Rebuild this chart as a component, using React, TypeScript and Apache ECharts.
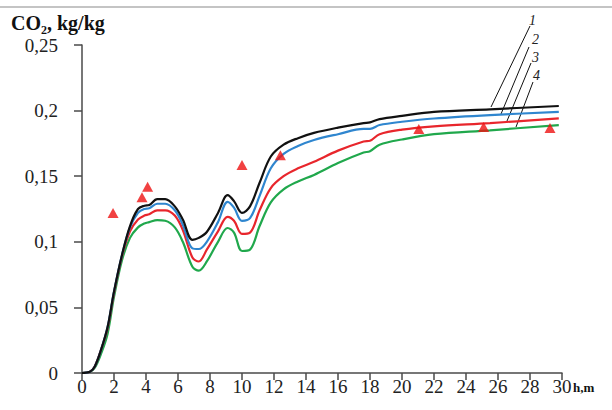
import React, { useEffect, useRef } from "react";
import * as echarts from "echarts";

const hValues = [0, 0.5, 0.8, 1.2, 1.6, 2.0, 2.5, 3.0, 3.5, 3.9, 4.2, 4.7, 5.2, 5.8, 6.3, 6.9, 7.3, 7.8, 8.5, 9.1, 9.5, 10.0, 10.5, 11.1, 11.8, 12.6, 13.5, 14.5, 16, 17.6, 18.0, 18.6, 20, 22, 25.5, 29.8];
const curve1 = [0, 0.001, 0.005, 0.018, 0.035, 0.062, 0.09, 0.112, 0.125, 0.1275, 0.128, 0.1325, 0.1325, 0.127, 0.117, 0.1015, 0.103, 0.1075, 0.122, 0.1355, 0.131, 0.122, 0.127, 0.145, 0.165, 0.174, 0.179, 0.183, 0.187, 0.1905, 0.191, 0.1935, 0.196, 0.199, 0.201, 0.2035];
const curve2 = [0, 0.001, 0.005, 0.018, 0.035, 0.062, 0.09, 0.111, 0.122, 0.125, 0.1255, 0.129, 0.129, 0.124, 0.113, 0.095, 0.0945, 0.1, 0.115, 0.1305, 0.126, 0.116, 0.118, 0.135, 0.156, 0.167, 0.173, 0.1776, 0.182, 0.186, 0.186, 0.189, 0.1915, 0.194, 0.1966, 0.199];
const curve3 = [0, 0.001, 0.005, 0.018, 0.034, 0.061, 0.089, 0.108, 0.117, 0.12, 0.121, 0.124, 0.124, 0.12, 0.109, 0.088, 0.085, 0.094, 0.108, 0.119, 0.116, 0.106, 0.107, 0.124, 0.141, 0.15, 0.156, 0.161, 0.1695, 0.1765, 0.177, 0.182, 0.1855, 0.188, 0.1905, 0.194];
const curve4 = [0, 0.001, 0.004, 0.015, 0.03, 0.058, 0.086, 0.103, 0.111, 0.114, 0.115, 0.1165, 0.116, 0.111, 0.1, 0.081, 0.078, 0.085, 0.1, 0.1105, 0.107, 0.093, 0.094, 0.112, 0.13, 0.14, 0.146, 0.151, 0.16, 0.168, 0.169, 0.174, 0.178, 0.182, 0.185, 0.189];

const expH = [1.94, 3.75, 4.1, 10.0, 12.4, 21.05, 25.1, 29.25];
const expV = [0.122, 0.134, 0.142, 0.1585, 0.166, 0.186, 0.1875, 0.1867];

const curveNames = ["1", "2", "3", "4"];
const curveColors = ["#111111", "#2f86cf", "#e8262c", "#20a84c"];
const curves = [curve1, curve2, curve3, curve4];

const serif = "Liberation Serif";

export default function App() {
  const ref = useRef<HTMLDivElement>(null);
  useEffect(() => {
    if (!ref.current) return;
    const chart = echarts.init(ref.current, null, { renderer: "svg" });
    const lineSeries = curves.map((vals, i) => ({
      name: curveNames[i],
      type: "line",
      data: hValues.map((h, j) => [h, vals[j]]),
      smooth: 0.35,
      showSymbol: false,
      symbol: "none",
      lineStyle: { color: curveColors[i], width: 2.2 },
      z: 3 + (3 - i),
    }));
    const axisColor = "#4a4a4a";
    const option: any = {
      animation: false,
      backgroundColor: "#ffffff",
      textStyle: { fontFamily: serif },
      grid: { left: 82, right: 50, top: 45, bottom: 37 },
      xAxis: {
        type: "value",
        min: 0,
        max: 30,
        interval: 2,
        axisLine: { show: true, lineStyle: { color: axisColor, width: 1.5 } },
        axisTick: { show: true, inside: false, length: 7, lineStyle: { color: axisColor, width: 1.5 } },
        splitLine: { show: false },
        axisLabel: { fontFamily: serif, fontSize: 19, color: "#222", margin: 4 },
      },
      yAxis: {
        type: "value",
        min: 0,
        max: 0.25,
        interval: 0.05,
        axisLine: { show: true, lineStyle: { color: axisColor, width: 1.5 } },
        axisTick: { show: true, inside: false, length: 8, lineStyle: { color: axisColor, width: 1.5 } },
        splitLine: { show: false },
        axisLabel: {
          fontFamily: serif,
          fontSize: 19,
          color: "#222",
          margin: 24,
          formatter: (v: number) => String(Math.round(v * 100) / 100).replace(".", ","),
        },
      },
      series: [
        ...lineSeries,
        {
          name: "experiment",
          type: "scatter",
          data: expH.map((h, j) => [h, expV[j]]),
          symbol: "triangle",
          symbolSize: [11, 10],
          itemStyle: { color: "#ee1111" },
          z: 10,
        },
      ],
      graphic: [
        {
          type: "text",
          left: 0,
          top: -21,
          style: {
            text: "cation between coal and the formed carbon dioxide",
            fontFamily: serif,
            fontSize: 24,
            fontWeight: "bold",
            fill: "#111",
          },
        },
        { type: "line", shape: { x1: 0, y1: 7, x2: 612, y2: 7 }, style: { stroke: "#b0b0b0", lineWidth: 1.5 } },
        {
          type: "text",
          x: 11,
          y: 13,
          style: {
            text: "CO₂, kg/kg",
            fontFamily: serif,
            fontSize: 20,
            fontWeight: "bold",
            fill: "#111",
          },
        },
        {
          type: "text",
          x: 573,
          y: 381,
          style: { text: "h,m", fontFamily: serif, fontSize: 13, fontWeight: "bold", fill: "#111" },
        },
        { type: "line", shape: { x1: 530, y1: 26, x2: 491, y2: 107 }, style: { stroke: "#111", lineWidth: 1 } },
        { type: "line", shape: { x1: 529, y1: 47, x2: 501, y2: 114 }, style: { stroke: "#111", lineWidth: 1 } },
        { type: "line", shape: { x1: 531, y1: 63, x2: 507, y2: 121 }, style: { stroke: "#111", lineWidth: 1 } },
        { type: "line", shape: { x1: 533, y1: 82, x2: 516, y2: 127 }, style: { stroke: "#111", lineWidth: 1 } },
        { type: "text", x: 529, y: 13, style: { text: "1", fontFamily: serif, fontSize: 14, fontStyle: "italic", fill: "#222" } },
        { type: "text", x: 532, y: 32, style: { text: "2", fontFamily: serif, fontSize: 14, fontStyle: "italic", fill: "#222" } },
        { type: "text", x: 532, y: 50, style: { text: "3", fontFamily: serif, fontSize: 14, fontStyle: "italic", fill: "#222" } },
        { type: "text", x: 533, y: 68, style: { text: "4", fontFamily: serif, fontSize: 14, fontStyle: "italic", fill: "#222" } },
      ],
    };
    chart.setOption(option);
    return () => chart.dispose();
  }, []);
  return <div ref={ref} style={{ width: 612, height: 410, position: "absolute", left: 0, top: 0 }} />;
}
